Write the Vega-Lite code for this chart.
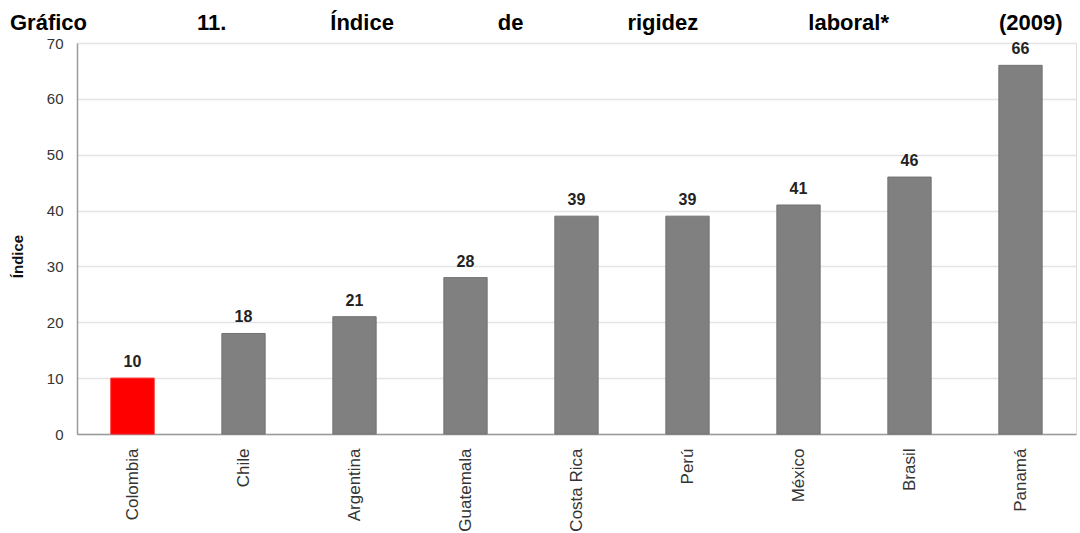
{
  "$schema": "https://vega.github.io/schema/vega-lite/v6.json",
  "width": 999,
  "height": 391,
  "autosize": {"type": "none"},
  "padding": {"left": 77, "top": 43, "right": 4, "bottom": 99},
  "background": "white",
  "title": {
    "text": "Gr\u00e1fico\u00a0\u00a0\u00a0\u00a0\u00a0\u00a0\u00a0\u00a0\u00a0\u00a0\u00a0\u00a0\u00a0\u00a0\u00a0\u00a0\u00a0\u00a011.\u00a0\u00a0\u00a0\u00a0\u00a0\u00a0\u00a0\u00a0\u00a0\u00a0\u00a0\u00a0\u00a0\u00a0\u00a0\u00a0\u00a0\u00cdndice\u00a0\u00a0\u00a0\u00a0\u00a0\u00a0\u00a0\u00a0\u00a0\u00a0\u00a0\u00a0\u00a0\u00a0\u00a0\u00a0\u00a0de\u00a0\u00a0\u00a0\u00a0\u00a0\u00a0\u00a0\u00a0\u00a0\u00a0\u00a0\u00a0\u00a0\u00a0\u00a0\u00a0\u00a0rigidez\u00a0\u00a0\u00a0\u00a0\u00a0\u00a0\u00a0\u00a0\u00a0\u00a0\u00a0\u00a0\u00a0\u00a0\u00a0\u00a0\u00a0\u00a0laboral*\u00a0\u00a0\u00a0\u00a0\u00a0\u00a0\u00a0\u00a0\u00a0\u00a0\u00a0\u00a0\u00a0\u00a0\u00a0\u00a0\u00a0\u00a0(2009)",
    "anchor": "start",
    "frame": "group",
    "dx": -67,
    "offset": -16,
    "baseline": "alphabetic",
    "font": "Liberation Sans",
    "fontSize": 22,
    "fontWeight": "bold",
    "color": "#000000"
  },
  "data": {
    "values": [
      {"pais": "Colombia", "indice": 10},
      {"pais": "Chile", "indice": 18},
      {"pais": "Argentina", "indice": 21},
      {"pais": "Guatemala", "indice": 28},
      {"pais": "Costa Rica", "indice": 39},
      {"pais": "Perú", "indice": 39},
      {"pais": "México", "indice": 41},
      {"pais": "Brasil", "indice": 46},
      {"pais": "Panamá", "indice": 66}
    ]
  },
  "encoding": {
    "x": {
      "field": "pais",
      "type": "nominal",
      "sort": null,
      "scale": {"paddingInner": 0.61, "paddingOuter": 0.305},
      "axis": {
        "title": null,
        "labelAngle": -90,
        "labelFont": "Liberation Sans",
        "labelFontSize": 17,
        "labelColor": "#333333",
        "labelPadding": 14,
        "ticks": false,
        "domainColor": "#9a9a9a",
        "domainWidth": 1.5
      }
    },
    "y": {
      "field": "indice",
      "type": "quantitative",
      "scale": {"domain": [0, 70], "nice": false},
      "axis": {
        "values": [0, 10, 20, 30, 40, 50, 60, 70],
        "title": "Índice",
        "titleFont": "Liberation Sans",
        "titleFontSize": 15,
        "titleFontWeight": "bold",
        "titleColor": "#111111",
        "titleX": -52,
        "titleY": 213,
        "labelFont": "Liberation Sans",
        "labelFontSize": 15,
        "labelColor": "#333333",
        "labelPadding": 14,
        "ticks": false,
        "domainColor": "#9a9a9a",
        "domainWidth": 1.5,
        "grid": true,
        "gridColor": "#e4e4e4",
        "gridWidth": 1.5
      }
    }
  },
  "layer": [
    {
      "mark": {"type": "bar", "stroke": "#727272", "strokeWidth": 1},
      "encoding": {
        "color": {
          "condition": {"test": "datum.pais === 'Colombia'", "value": "#ff0000"},
          "value": "#808080"
        },
        "stroke": {
          "condition": {"test": "datum.pais === 'Colombia'", "value": "#ff1a1a"},
          "value": "#727272"
        }
      }
    },
    {
      "mark": {
        "type": "text",
        "baseline": "alphabetic",
        "dy": -11,
        "font": "Liberation Sans",
        "fontSize": 16,
        "fontWeight": "bold",
        "color": "#222222"
      },
      "encoding": {
        "text": {"field": "indice", "type": "quantitative"}
      }
    }
  ]
}
